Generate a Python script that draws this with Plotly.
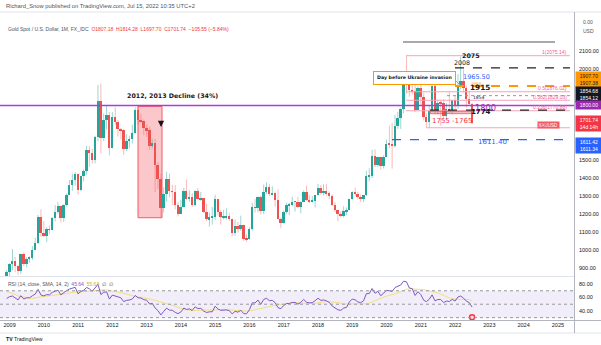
import numpy as np
import pandas as pd
import plotly.graph_objects as go

W, H = 601, 345

# ---------------- data (monthly XAU/USD) ----------------
warmup_close = [422, 434, 428, 436, 417, 435, 429, 433, 473, 470, 495, 513,
                569, 556, 582, 654, 643, 613, 633, 623, 599, 604, 646, 632,
                650, 665, 663, 680, 659, 650, 666, 673, 743, 789, 783, 834,
                923, 972, 916, 864, 886, 928, 912, 833, 871, 718, 815]

first_month = "2008-12-01"

open_ = [815,
         882, 927, 942, 916, 883, 979, 926, 954, 955, 1001, 1040, 1182,
         1096, 1081, 1116, 1113, 1180, 1213, 1244, 1181, 1248, 1307, 1359, 1386,
         1421, 1332, 1409, 1439, 1556, 1536, 1500, 1628, 1826, 1620, 1722, 1746,
         1565, 1737, 1710, 1669, 1664, 1560, 1604, 1614, 1648, 1773, 1719, 1712,
         1675, 1664, 1578, 1595, 1472, 1393, 1234, 1313, 1396, 1327, 1323, 1253,
         1202, 1240, 1326, 1284, 1296, 1250, 1327, 1282, 1287, 1210, 1171, 1182,
         1184, 1283, 1213, 1183, 1183, 1190, 1172, 1095, 1133, 1115, 1142, 1065,
         1061, 1118, 1238, 1234, 1293, 1215, 1322, 1351, 1309, 1316, 1277, 1173,
         1151, 1211, 1249, 1249, 1268, 1268, 1242, 1269, 1321, 1280, 1271, 1275,
         1303, 1345, 1318, 1325, 1315, 1298, 1253, 1224, 1201, 1192, 1215, 1222,
         1282, 1321, 1313, 1292, 1284, 1305, 1409, 1413, 1520, 1472, 1513, 1464,
         1517, 1589, 1585, 1577, 1687, 1730, 1781, 1975, 1967, 1886, 1879, 1776,
         1898, 1847, 1734, 1707, 1769, 1907, 1770, 1814, 1813, 1743, 1783, 1774,
         1829, 1796, 1909, 1937, 1897, 1837, 1807.18]

high = [890,
        928, 1007, 963, 917, 981, 989, 962, 966, 1024, 1070, 1195, 1227,
        1162, 1129, 1138, 1183, 1250, 1265, 1247, 1254, 1315, 1388, 1424, 1432,
        1424, 1412, 1448, 1577, 1577, 1560, 1632, 1913, 1921, 1755, 1803, 1764,
        1764, 1791, 1720, 1677, 1668, 1641, 1633, 1693, 1790, 1796, 1755, 1723,
        1694, 1683, 1617, 1615, 1487, 1424, 1348, 1434, 1424, 1362, 1361, 1267,
        1280, 1345, 1392, 1331, 1315, 1332, 1345, 1323, 1288, 1255, 1208, 1239,
        1307, 1283, 1223, 1224, 1232, 1205, 1175, 1170, 1157, 1191, 1142, 1088,
        1128, 1263, 1283, 1299, 1304, 1363, 1375, 1367, 1353, 1326, 1337, 1181,
        1220, 1264, 1262, 1296, 1270, 1296, 1270, 1331, 1357, 1306, 1299, 1306,
        1366, 1361, 1365, 1366, 1326, 1309, 1266, 1224, 1214, 1243, 1237, 1285,
        1326, 1346, 1324, 1310, 1306, 1439, 1453, 1555, 1557, 1517, 1516, 1524,
        1611, 1689, 1704, 1748, 1765, 1789, 1984, 2075, 1992, 1933, 1966, 1906,
        1959, 1872, 1755, 1798, 1913, 1917, 1833, 1832, 1835, 1814, 1877, 1831,
        1853, 1974, 2070, 1998, 1910, 1879, 1814.28]

low = [752,
       802, 889, 880, 865, 868, 912, 907, 932, 946, 1000, 1034, 1075,
       1072, 1045, 1088, 1111, 1160, 1202, 1155, 1157, 1242, 1306, 1330, 1357,
       1309, 1326, 1381, 1418, 1462, 1478, 1481, 1602, 1535, 1603, 1668, 1523,
       1563, 1692, 1628, 1612, 1527, 1548, 1564, 1590, 1643, 1692, 1705, 1636,
       1626, 1555, 1563, 1321, 1338, 1180, 1208, 1270, 1293, 1251, 1227, 1187,
       1200, 1237, 1277, 1268, 1240, 1241, 1280, 1273, 1205, 1160, 1131, 1142,
       1167, 1191, 1142, 1170, 1170, 1162, 1077, 1080, 1098, 1107, 1052, 1046,
       1060, 1108, 1208, 1209, 1200, 1200, 1310, 1300, 1303, 1241, 1171, 1122,
       1147, 1200, 1195, 1244, 1214, 1236, 1205, 1265, 1272, 1261, 1264, 1236,
       1302, 1307, 1303, 1302, 1282, 1245, 1211, 1160, 1180, 1182, 1196, 1221,
       1276, 1301, 1281, 1266, 1267, 1301, 1381, 1400, 1459, 1459, 1445, 1452,
       1517, 1563, 1451, 1567, 1670, 1671, 1757, 1863, 1849, 1860, 1764, 1775,
       1802, 1717, 1677, 1678, 1765, 1750, 1750, 1688, 1722, 1722, 1759, 1753,
       1780, 1781, 1890, 1872, 1787, 1805, 1697.70]

close = [882,
         927, 942, 916, 883, 979, 926, 954, 955, 1001, 1040, 1182, 1096,
         1081, 1116, 1113, 1180, 1213, 1244, 1181, 1248, 1307, 1359, 1386, 1421,
         1332, 1409, 1439, 1556, 1536, 1500, 1628, 1826, 1620, 1722, 1746, 1565,
         1737, 1710, 1669, 1664, 1560, 1604, 1614, 1648, 1773, 1719, 1712, 1675,
         1664, 1578, 1595, 1472, 1393, 1234, 1313, 1396, 1327, 1323, 1253, 1202,
         1240, 1326, 1284, 1296, 1250, 1327, 1282, 1287, 1210, 1171, 1182, 1184,
         1283, 1213, 1183, 1183, 1190, 1172, 1095, 1133, 1115, 1142, 1065, 1061,
         1118, 1238, 1234, 1293, 1215, 1322, 1351, 1309, 1316, 1277, 1173, 1151,
         1211, 1249, 1249, 1268, 1268, 1242, 1269, 1321, 1280, 1271, 1275, 1303,
         1345, 1318, 1325, 1315, 1298, 1253, 1224, 1201, 1192, 1215, 1222, 1282,
         1321, 1313, 1292, 1284, 1305, 1409, 1413, 1520, 1472, 1513, 1464, 1517,
         1589, 1585, 1577, 1687, 1730, 1781, 1975, 1967, 1886, 1879, 1776, 1898,
         1847, 1734, 1707, 1769, 1907, 1770, 1814, 1813, 1743, 1783, 1774, 1829,
         1796, 1909, 1937, 1897, 1837, 1807, 1701.74]

# drawing levels (user drawings on the chart)
fib_low, fib_high = 1676.9, 2075.14
fib_ratios = [1, 0.5, 0.382, 0.236, 0]
decline_top, decline_bottom = 1795, 1180
level_1800 = 1800.0
level_2008 = 2008.0
level_1907 = 1907.7
level_1854 = 1854.4
level_1774 = 1774.0
level_1611 = 1611.4
zone_lo, zone_hi = 1755, 1768
top_line = 2151

# ---------------- geometry helpers ----------------
X0 = pd.Timestamp("2009-01-01")
X0_PX = 9.6
PX_PER_DAY = 34.27 / 365.25
PLOT_R = 574
Y_1800, PX_PER_USD = 105.5, 0.181


def px2date(px):
    return X0 + pd.Timedelta(days=(px - X0_PX) / PX_PER_DAY)


def ds(ts):
    return ts.strftime("%Y-%m-%d %H:%M")


def py2price(py):
    return level_1800 + (Y_1800 - py) / PX_PER_USD


def px(x):
    return x / W


def py(y):
    return 1 - y / H


x_start, x_end = px2date(0), px2date(PLOT_R)

dates = pd.date_range(first_month, periods=len(close), freq="MS")
o = np.array(open_, float)
h = np.array(high, float)
l = np.array(low, float)
c = np.array(close, float)
up = c >= o

# ---------------- RSI(14) + SMA(14) ----------------
allc = np.array(warmup_close + close, float)
d = np.diff(allc)
g = np.clip(d, 0, None)
ls = np.clip(-d, 0, None)
n = 14
ag = np.full(len(d), np.nan)
al = np.full(len(d), np.nan)
ag[n - 1] = g[:n].mean()
al[n - 1] = ls[:n].mean()
for i in range(n, len(d)):
    ag[i] = (ag[i - 1] * (n - 1) + g[i]) / n
    al[i] = (al[i - 1] * (n - 1) + ls[i]) / n
rsi_all = 100 - 100 / (1 + ag / al)
rsi_all = np.concatenate([[np.nan], rsi_all])
sma_all = pd.Series(rsi_all).rolling(14).mean().values
rsi = rsi_all[len(warmup_close):]
rsi_sma = sma_all[len(warmup_close):]

UP, DN = "#26a69a", "#ef5350"
UPW, DNW = "rgba(38,166,154,0.45)", "rgba(239,83,80,0.40)"

fig = go.Figure()


def wick_xy(mask):
    xs, ys = [], []
    for dt, lo_, hi_ in zip(dates[mask], l[mask], h[mask]):
        xs += [dt, dt, None]
        ys += [lo_, hi_, None]
    return xs, ys


for mask, col in [(up, UPW), (~up, DNW)]:
    xs, ys = wick_xy(mask)
    fig.add_trace(go.Scatter(x=xs, y=ys, mode="lines", line=dict(color=col, width=1),
                             hoverinfo="skip", xaxis="x", yaxis="y"))

body_h = np.maximum(np.abs(c - o), 4)
fig.add_trace(go.Bar(x=dates, y=body_h, base=np.minimum(o, c),
                     width=21 * 86400000,
                     marker=dict(color=[UP if u else DN for u in up], line=dict(width=0)),
                     xaxis="x", yaxis="y"))

# RSI pane
fig.add_trace(go.Scatter(x=dates, y=rsi_sma, mode="lines",
                         line=dict(color="#f3df7a", width=1), xaxis="x2", yaxis="y2"))
fig.add_trace(go.Scatter(x=dates, y=rsi, mode="lines",
                         line=dict(color="#7e57c2", width=1), xaxis="x2", yaxis="y2"))
fig.add_trace(go.Scatter(x=[dates[-1]], y=[30.5], mode="markers",
                         marker=dict(size=5, color="#fde0e0", line=dict(color="#f23645", width=1.5)),
                         xaxis="x2", yaxis="y2"))

shapes = []
ann = []

# frame / separators
GRID = "#e0e3eb"
shapes += [
    dict(type="line", xref="paper", yref="paper", x0=0, x1=1, y0=py(12), y1=py(12), line=dict(color=GRID, width=1)),
    dict(type="line", xref="paper", yref="paper", x0=0, x1=px(PLOT_R), y0=py(276.5), y1=py(276.5), line=dict(color=GRID, width=1)),
    dict(type="line", xref="paper", yref="paper", x0=0, x1=1, y0=py(320.5), y1=py(320.5), line=dict(color="#b2b5be", width=1)),
    dict(type="line", xref="paper", yref="paper", x0=0, x1=1, y0=py(333), y1=py(333), line=dict(color=GRID, width=1)),
    dict(type="line", xref="paper", yref="paper", x0=px(PLOT_R + 0.5), x1=px(PLOT_R + 0.5), y0=py(12), y1=py(333), line=dict(color="#b2b5be", width=1)),
]

# RSI band & dotted levels
shapes.append(dict(type="rect", xref="x2", yref="y2", x0=ds(x_start), x1=ds(x_end), y0=30, y1=70,
                   fillcolor="rgba(126,87,194,0.10)", line=dict(width=0), layer="below"))
for lv in [70, 50, 30]:
    shapes.append(dict(type="line", xref="x2", yref="y2", x0=ds(x_start), x1=ds(x_end), y0=lv, y1=lv,
                       line=dict(color="#9598a1", width=1, dash="dot")))

# 2012-2013 decline box
shapes.append(dict(type="rect", xref="x", yref="y", x0=ds(px2date(138)), x1=ds(px2date(162)),
                   y0=decline_bottom, y1=decline_top, fillcolor="rgba(242,54,69,0.28)",
                   line=dict(color="#f05b65", width=1), layer="below"))

# 1800 line
shapes.append(dict(type="line", xref="x", yref="y", x0=ds(x_start), x1=ds(x_end), y0=level_1800, y1=level_1800,
                   line=dict(color="#b03cd0", width=1.3)))
# top grey line
shapes.append(dict(type="line", xref="x", yref="y", x0=ds(px2date(403)), x1=ds(px2date(555)),
                   y0=top_line, y1=top_line, line=dict(color="#8a8d96", width=1.5)))
# fib retracement
PINK = "#f7a3b9"
for r in fib_ratios:
    val = fib_low + r * (fib_high - fib_low)
    x0p = 426 if r == 0 else 406
    shapes.append(dict(type="line", xref="x", yref="y", x0=ds(px2date(x0p)), x1=ds(px2date(570)),
                       y0=val, y1=val, line=dict(color=PINK, width=1)))
    lab = "%g(%.2f)" % (r, val)
    if r == 0:
        lab = "0("
        ann.append(dict(x=px(560), y=val, xref="paper", yref="y", yshift=3, text="XAUUSD",
                        showarrow=False, font=dict(size=4.5, color="white", family="Liberation Sans"),
                        bgcolor="#f05b65", borderpad=0.5))
        ann.append(dict(x=px(549), y=val, xref="paper", yref="y", yshift=3, xanchor="right", text=lab,
                        showarrow=False, font=dict(size=5, color="#f06292", family="Liberation Sans")))
    else:
        ann.append(dict(x=px(569), y=val, xref="paper", yref="y", yshift=3.5, xanchor="right", text=lab,
                        showarrow=False, font=dict(size=5, color="#f06292", family="Liberation Sans")))

# dashed levels
shapes += [
    dict(type="line", xref="x", yref="y", x0=ds(px2date(455)), x1=ds(px2date(570)), y0=level_2008, y1=level_2008,
         line=dict(color="#222", width=1.3, dash="dash")),
    dict(type="line", xref="x", yref="y", x0=ds(px2date(455)), x1=ds(px2date(570)), y0=level_1907, y1=level_1907,
         line=dict(color="#ff9800", width=2, dash="dash")),
    dict(type="line", xref="x", yref="y", x0=ds(px2date(447)), x1=ds(px2date(570)), y0=level_1854, y1=level_1854,
         line=dict(color="#9598a1", width=1, dash="dot")),
    dict(type="line", xref="x", yref="y", x0=ds(px2date(430)), x1=ds(px2date(570)), y0=level_1774, y1=level_1774,
         line=dict(color="#222", width=1.3, dash="dash")),
    dict(type="line", xref="x", yref="y", x0=ds(px2date(392)), x1=ds(px2date(570)), y0=level_1611, y1=level_1611,
         line=dict(color="#2962ff", width=1.3, dash="dash")),
    dict(type="rect", xref="x", yref="y", x0=ds(px2date(430)), x1=ds(px2date(472)), y0=zone_lo, y1=zone_hi,
         fillcolor="rgba(242,54,69,0.35)", line=dict(color="rgba(242,54,69,0.6)", width=1)),
    # callout tail
    dict(type="line", xref="paper", yref="paper", x0=px(455), x1=px(460), y0=py(80), y1=py(85),
         line=dict(color="#ff9800", width=1)),
]

F = "DejaVu Sans"
def txt(x, y, s, size, color="#131722", bold=True, anchor="center", **kw):
    ann.append(dict(x=px(x), y=py(y), xref="paper", yref="paper", text=("<b>%s</b>" % s) if bold else s,
                    showarrow=False, xanchor=anchor, yanchor="middle",
                    font=dict(size=size, color=color, family=kw.pop("family", F)), **kw))

txt(172, 96, "2012, 2013 Decline (34%)", 6.3)
txt(471, 55, "2075", 6.3)
txt(462, 62, "2008", 6.3, bold=False)
txt(476, 77, "1965.50", 6.5, color="#2962ff", bold=False)
txt(476, 83, "1900", 4, color="#ff9800", bold=False)
txt(480, 88, "1915", 7.3)
txt(479, 97.3, "1854", 4.5, bold=False)
txt(486, 107.5, "1800", 8.3, color="#9c27b0", bold=False)
txt(481, 112, "1774", 7)
txt(452, 120.5, "1755 -1765", 7, color="#f23645", bold=False)
txt(492, 141.5, "1611.40", 7, color="#2962ff", bold=False)
txt(414, 77.5, "Day before Ukraine invasion", 4.7, bordercolor="#ff9800", borderwidth=1,
    bgcolor="white", borderpad=3)

# down arrow
ann.append(dict(x=ds(px2date(161)), y=py2price(127), xref="x", yref="y", ax=0, ay=-7, text="",
                showarrow=True, arrowhead=2, arrowsize=0.7, arrowwidth=1.8, arrowcolor="#131722"))

# header texts
G = "#50535e"
LF = "Liberation Sans"
txt(4, 6, "Richard_Snow published on TradingView.com, Jul 15, 2022 10:35 UTC+2", 5.8, color=G, bold=False,
    anchor="left", family=LF)
R = "#f23645"
txt(6, 29, ("Gold Spot / U.S. Dollar, 1M, FX_IDC  <span style='color:%s'>O1807.18  H1814.28  L1697.70  "
            "C1701.74  −105.55 (−5.84%%)</span>") % R, 5, color=G, bold=False, anchor="left", family=LF)
txt(6, 284, "RSI (14, close, SMA, 14, 2)  <span style='color:#7e57c2'>45.64</span>  "
            "<span style='color:#d4b106'>55.63</span>  ∅  ∅", 5, color=G, bold=False, anchor="left", family=LF)
txt(4, 339, "<b>TV</b> TradingView", 5.2, color="#131722", bold=False, anchor="left", family=LF)
txt(588, 22, "0.00", 5, color=G, bold=False, family=LF)
txt(588, 31, "USD", 5, color=G, bold=False, family=LF)

# price-axis labels
def axlab(yc, s, bg, fg="white", hgt=7):
    ann.append(dict(x=px(575), y=py(yc), xref="paper", yref="paper", xanchor="left", yanchor="middle",
                    text=s, showarrow=False, width=25, height=hgt, align="center",
                    font=dict(size=5, color=fg, family=LF), bgcolor=bg, borderpad=0.5))

axlab(79.5, "1907.70<br>1907.38", "#ff9800", fg="#131722", hgt=14)
axlab(94, "1854.68<br>1854.12", "#131722", hgt=14)
axlab(105.5, "1800.00", "#9c27b0", hgt=7)
axlab(123.5, "1701.74<br>14d 14h", "#f23645", hgt=14)
axlab(145.5, "1611.42<br>1611.34", "#2962ff", hgt=14)

AXF = dict(size=5.5, color="#131722", family=LF)
fig.update_layout(
    width=W, height=H, margin=dict(l=0, r=0, t=0, b=0),
    paper_bgcolor="white", plot_bgcolor="white", showlegend=False,
    xaxis=dict(domain=[0, PLOT_R / W], range=[ds(x_start), ds(x_end)], type="date",
               showticklabels=False, showgrid=False, zeroline=False, anchor="y"),
    yaxis=dict(domain=[py(276), py(13)], range=[py2price(276), py2price(13)], side="right",
               tickvals=list(range(900, 2101, 100)), tickformat=".2f", showgrid=False, zeroline=False,
               tickfont=AXF, ticks="", ticklabelstandoff=4, anchor="x"),
    xaxis2=dict(domain=[0, PLOT_R / W], range=[ds(x_start), ds(x_end)], type="date", matches="x",
                tickformat="%Y", dtick="M12", tick0="2009-01-01", showgrid=False, zeroline=False,
                tickfont=AXF, ticks="", anchor="y2"),
    yaxis2=dict(domain=[py(320), py(277)], range=[26.5, 90.5], side="right", tickvals=[40, 60, 80],
                tickformat=".2f", showgrid=False, zeroline=False, tickfont=AXF, ticks="",
                ticklabelstandoff=4, anchor="x2"),
    shapes=shapes, annotations=ann, bargap=0,
)

fig.write_html("out.html", config={"displayModeBar": False})
